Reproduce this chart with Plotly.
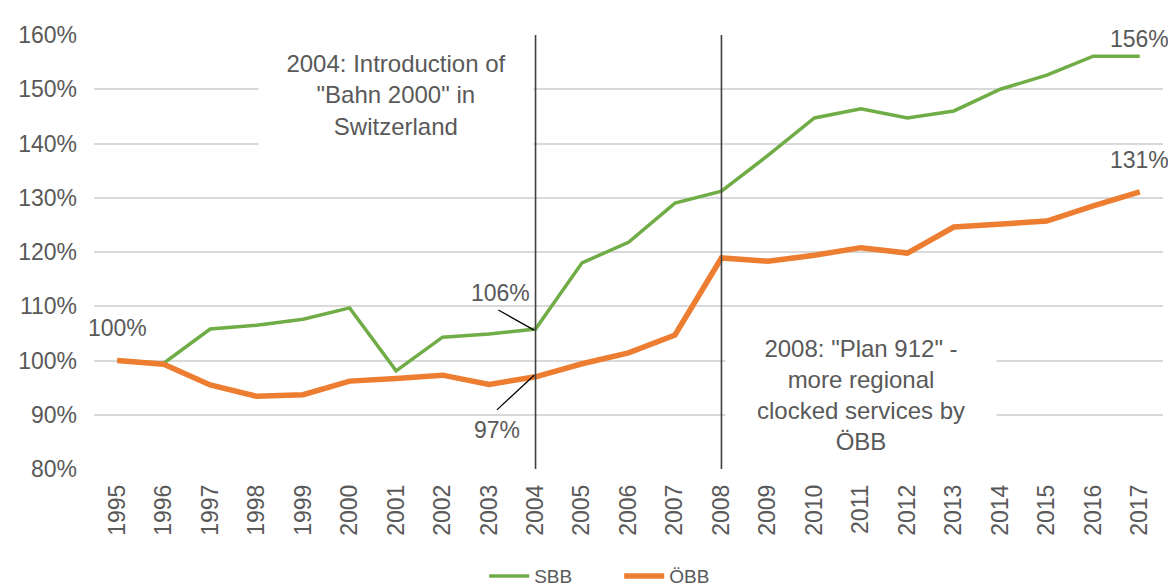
import plotly.graph_objects as go

years = list(range(1995, 2018))
year_labels = [str(y) for y in years]
sbb = [100.0, 99.5, 105.8, 106.5, 107.6, 109.7, 98.1, 104.3, 104.9, 105.8,
       118.0, 121.8, 129.0, 131.2, 137.8, 144.7, 146.4, 144.7, 146.0, 150.0,
       152.6, 156.1, 156.1]
obb = [100.0, 99.3, 95.5, 93.4, 93.7, 96.2, 96.7, 97.3, 95.6, 97.0,
       99.4, 101.4, 104.7, 118.9, 118.3, 119.4, 120.8, 119.8, 124.6, 125.1,
       125.7, 128.5, 131.1]
y_ticks = [80, 90, 100, 110, 120, 130, 140, 150, 160]
y_tick_labels = [f"{v}%" for v in y_ticks]
event_years = [2004, 2008]

TXT = "#595959"
FONT = "Liberation Sans, Arial, sans-serif"

fig = go.Figure()
fig.add_trace(go.Scatter(x=years, y=sbb, mode="lines", name="SBB",
                         line=dict(color="#70AD47", width=3.5)))
fig.add_trace(go.Scatter(x=years, y=obb, mode="lines", name="ÖBB",
                         line=dict(color="#ED7D31", width=5.5)))

shapes = []
for ey in event_years:
    shapes.append(dict(type="line", xref="x", yref="y", x0=ey, x1=ey,
                       y0=79.4, y1=160, line=dict(color="#404040", width=1.6),
                       layer="above"))
i04 = years.index(2004)
shapes.append(dict(type="line", xref="x", yref="y", x0=2003.2, x1=2003.97,
                   y0=109.3, y1=sbb[i04] - 0.2, line=dict(color="black", width=1.3)))
shapes.append(dict(type="line", xref="x", yref="y", x0=2003.17, x1=2003.97,
                   y0=90.9, y1=obb[i04] + 0.3, line=dict(color="black", width=1.3)))

annotations = [
    dict(x=2001, y=148.9, xref="x", yref="y",
         text="2004: Introduction of<br>\"Bahn 2000\" in<br>Switzerland",
         showarrow=False, bgcolor="white", width=272, height=106,
         font=dict(size=24, color=TXT, family=FONT), align="center"),
    dict(x=2011, y=93.6, xref="x", yref="y",
         text="2008: \"Plan 912\" -<br>more regional<br>clocked services by<br>ÖBB",
         showarrow=False, bgcolor="white", width=268, height=128,
         font=dict(size=24, color=TXT, family=FONT), align="center"),
    dict(x=1995, y=105.9, xref="x", yref="y", text="100%", showarrow=False,
         font=dict(size=23, color=TXT, family=FONT)),
    dict(x=2003.24, y=112.4, xref="x", yref="y", text="106%", showarrow=False,
         font=dict(size=23, color=TXT, family=FONT)),
    dict(x=2003.17, y=87.2, xref="x", yref="y", text="97%", showarrow=False,
         font=dict(size=23, color=TXT, family=FONT)),
    dict(x=2017, y=1.025, xref="x", yref="paper", text="156%", showarrow=False,
         font=dict(size=23, color=TXT, family=FONT)),
    dict(x=2017, y=137.0, xref="x", yref="y", text="131%", showarrow=False,
         font=dict(size=23, color=TXT, family=FONT)),
]

# the page body adds an 8px offset, so the figure is 8px smaller and shifted
fig.update_layout(
    width=1168, height=580,
    margin=dict(l=86, r=13, t=27, b=119, autoexpand=False),
    paper_bgcolor="white", plot_bgcolor="white",
    font=dict(family=FONT, color=TXT),
    shapes=shapes, annotations=annotations,
    showlegend=True,
    legend=dict(orientation="h", x=0.365, xanchor="left", y=-0.247,
                yanchor="middle", font=dict(size=19, color=TXT, family=FONT),
                itemwidth=40, entrywidth=80, entrywidthmode="pixels",
                tracegroupgap=0),
)
fig.update_xaxes(range=[1994.5, 2017.5], tickmode="array", tickvals=years,
                 ticktext=year_labels, tickangle=-90, showgrid=False,
                 zeroline=False, showline=False, ticks="", automargin=False,
                 tickfont=dict(size=23, color=TXT, family=FONT),
                 ticklabelstandoff=10)
fig.update_yaxes(range=[80, 160], tickmode="array", tickvals=y_ticks,
                 ticktext=y_tick_labels, showgrid=True, gridcolor="#D9D9D9",
                 gridwidth=1.5, zeroline=False, showline=False, ticks="",
                 automargin=False,
                 tickfont=dict(size=23, color=TXT, family=FONT),
                 ticklabelstandoff=16)

fig.write_html("out.html")
